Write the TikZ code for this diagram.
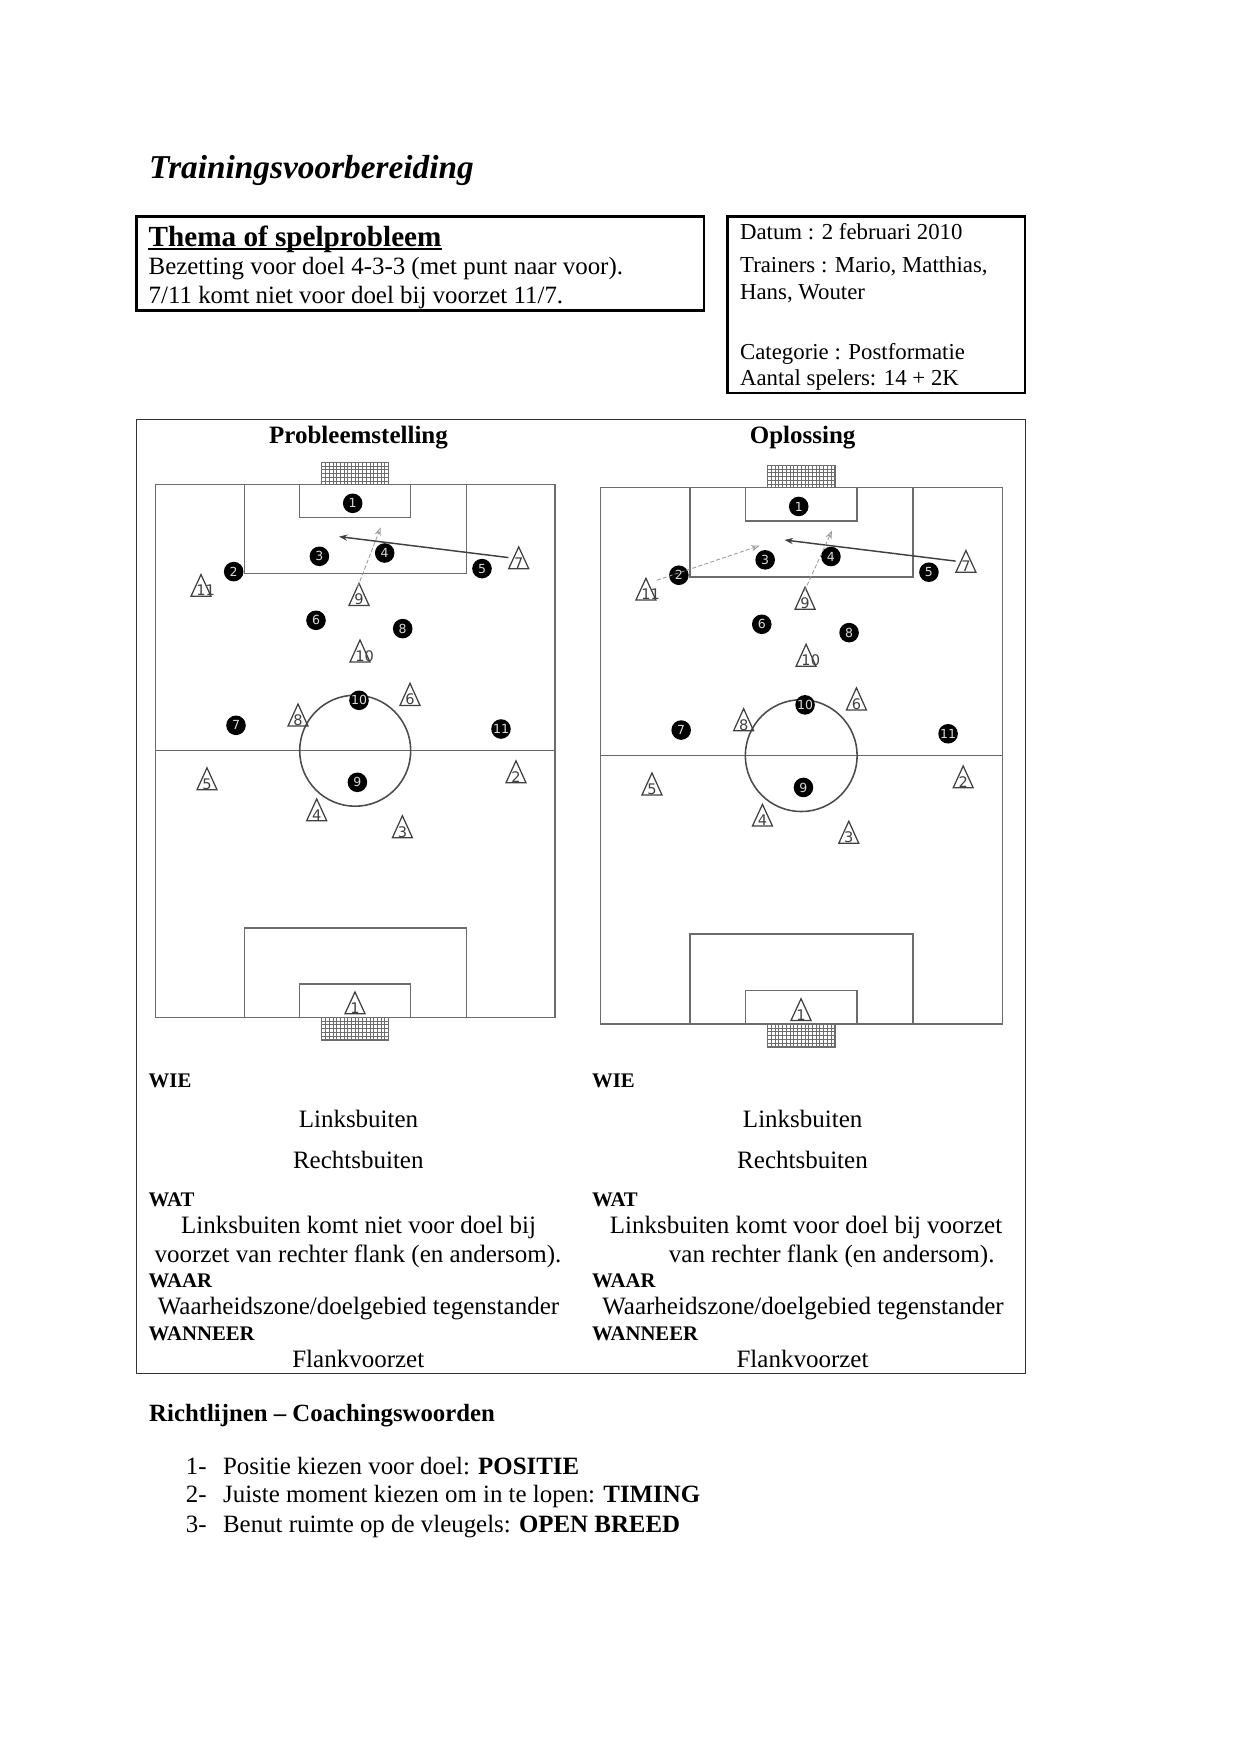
\documentclass[tikz,border=0pt]{standalone}
\usepackage{fontspec}
\setmainfont{Liberation Serif}
\newfontfamily\cijfer{DejaVu Sans}
\usetikzlibrary{shapes.geometric, arrows.meta}

\tikzset{
	lijn/.style={gray!85!black, line width=0.75pt},
	net/.style={gray!85!black, line width=0.25pt},
	kader/.style={line width=1.25pt},
	tekst/.style={anchor=base west, inner sep=0pt, font=\fontsize{11.95}{14}\selectfont},
	midden/.style={anchor=base, inner sep=0pt, font=\fontsize{12}{14}\selectfont},
	klein/.style={anchor=base west, inner sep=0pt, font=\fontsize{10.95}{13}\selectfont},
	vet/.style={anchor=base west, inner sep=0pt, font=\fontsize{9.95}{12}\selectfont\bfseries},
	kop/.style={anchor=base, inner sep=0pt, font=\fontsize{12}{14}\selectfont\bfseries},
	zwart/.style={circle, fill=black, inner sep=0pt, minimum size=9.4pt, text=white!85!black, font=\cijfer\fontsize{6}{7}\selectfont},
	wit/.style={isosceles triangle, isosceles triangle stretches, shape border rotate=90, draw=black!75, line width=0.6pt,
		inner sep=0pt, minimum width=9.6pt, minimum height=9.6pt, text=black!75, font=\cijfer\fontsize{7}{8}\selectfont},
	voorzet/.style={-{Stealth[length=4pt,width=3pt]}, black!75, line width=0.7pt},
	loopweg/.style={-{Stealth[length=4pt,width=3pt,open]}, gray!80, line width=0.4pt, dashed, dash pattern=on 2pt off 1pt},
}

% veld met spelers, #1 = voorvoegsel van de namen
\newcommand{\veld}[1]{
	\draw[lijn] (0,0) rectangle (399.3,533);
	\draw[lijn, black!60] (0,266.4) -- (399.3,266.4);
	\draw[lijn, black!70] (199.5,266.4) circle (55.5);
	% bovenste doel
	\draw[lijn] (89,0) rectangle (310.6,89);
	\draw[lijn] (144,0) rectangle (255,33.4);
	\draw[net, shift={(166,-22)}, xstep=3.7, ystep=1.776pt] (0,0) grid (67,22);
	\draw[net] (166,-22) rectangle (233,0);
	% onderste doel
	\draw[lijn] (89,533) rectangle (310.6,443.7);
	\draw[lijn] (144,533) rectangle (255,499.7);
	\draw[net, shift={(166,533)}, xstep=3.7, ystep=1.776pt] (0,0) grid (67,22.7);
	\draw[net] (166,533) rectangle (233,555.7);
	% spelers
	\foreach \n/\x/\y in {1/197/19, 2/78/87.3, 3/163.7/72, 4/229/68.7, 5/326.3/84.3, 6/160.3/136,
		8/247/144.3, 10/203.3/216, 7/80.3/241, 11/345.3/244.7, 9/201.7/298}
		\node[zwart] (#1z\n) at (\x,\y) {\n};
	\foreach \n/\x/\y in {7/363/78.7, 11/45.3/106.3, 9/203.3/115.3, 10/204.3/172, 6/254.3/215.3,
		8/142.3/236, 5/51.3/299.7, 2/360.3/292.7, 4/161/330.7, 3/246.7/347.7, 1/199.3/523.7}
		\node[wit] (#1w\n) at (\x,\y) {\makebox[4.4pt][l]{\n}};
}

\begin{document}
\begin{tikzpicture}[x=0.48pt, y=-0.48pt]
	\useasboundingbox (0,0) rectangle (1241,1754);

	%titel
	\node[anchor=base west, inner sep=0pt, font=\fontsize{16}{18}\selectfont\bfseries\itshape] (titel) at (148.7,178.4) {Trainingsvoorbereiding};

	%kader thema
	\draw[kader] (136.5,216.5) rectangle (704,310.7);
	\node[anchor=base west, inner sep=0pt, font=\fontsize{14}{16}\selectfont\bfseries] (thema) at (148.3,246) {Thema of spelprobleem};
	\draw[line width=0.9pt] ([yshift=-1.3pt]thema.base west) -- ([yshift=-1.3pt]thema.base east);
	\node[tekst] (bezetting) at (148.3,274.5) {Bezetting voor doel 4-3-3 (met punt naar voor).};
	\node[tekst] (komt) at (148.3,303.8) {7/11 komt niet voor doel bij voorzet 11/7.};

	%kader datum
	\draw[kader] (727.5,216.7) rectangle (1025,393);
	\node[klein] (datum) at (739.7,239.4) {Datum : 2 februari 2010};
	\node[klein] (trainers) at (739.7,272.6) {Trainers : Mario, Matthias,};
	\node[klein] (hans) at (739.7,299.3) {Hans, Wouter};
	\node[klein] (categorie) at (739.7,359) {Categorie : Postformatie};
	\node[klein] (aantal) at (739.7,385.7) {Aantal spelers: 14 + 2K};

	%grote tabel
	\draw[black!80, line width=0.4pt] (136.5,419) rectangle (1025,1373.7);
	\node[kop] (probleem) at (358.5,443.7) {Probleemstelling};
	\node[kop] (oplossing) at (802.6,443.7) {Oplossing};

	%veld links
	\begin{scope}[shift={(155.7,484.3)}]
		\veld{p}
		\coordinate (pkop) at (183.3,52.3);
		\coordinate (pdoel) at (225,43);
		\draw[voorzet, shorten <=5pt] ([yshift=2pt]pw7.center) -- (pkop);
		\draw[loopweg, shorten <=6.5pt] ([xshift=-3pt]pw9.center) -- (pdoel);
	\end{scope}

	%veld rechts
	\begin{scope}[shift={(600.3,487.3)}, scale=1.0072]
		\veld{o}
		\coordinate (okop) at (183,52.3);
		\coordinate (odoel) at (230,43);
		\coordinate (oflank) at (158,58);
		\draw[voorzet, shorten <=5pt] ([yshift=2pt]ow7.center) -- (okop);
		\draw[loopweg, shorten <=6.5pt] ([xshift=-3pt]ow9.center) -- (odoel);
		\draw[loopweg, shorten <=5.5pt] ([yshift=5pt]ow11.center) -- (oflank);
	\end{scope}

	%tekst links
	\node[vet] (pwie) at (148.3,1087.7) {WIE};
	\node[midden] (plinks) at (358.5,1127.3) {Linksbuiten};
	\node[midden] (prechts) at (358.3,1168.7) {Rechtsbuiten};
	\node[vet] (pwat) at (148.3,1206.7) {WAT};
	\node[midden] (pkomt) at (358.6,1233.7) {Linksbuiten komt niet voor doel bij};
	\node[midden] (pvoor) at (358,1262.7) {voorzet van rechter flank (en andersom).};
	\node[vet] (pwaar) at (148.3,1287.3) {WAAR};
	\node[midden] (pzone) at (358.5,1314) {Waarheidszone/doelgebied tegenstander};
	\node[vet] (pwanneer) at (148.3,1340) {WANNEER};
	\node[midden] (pflank) at (358.3,1367.7) {Flankvoorzet};

	%tekst rechts
	\node[vet] (owie) at (591.7,1087.7) {WIE};
	\node[midden] (olinks) at (802.7,1127.3) {Linksbuiten};
	\node[midden] (orechts) at (802.5,1168.7) {Rechtsbuiten};
	\node[vet] (owat) at (591.7,1206.7) {WAT};
	\node[midden] (okomt) at (806,1233.7) {Linksbuiten komt voor doel bij voorzet};
	\node[midden] (ovoor) at (831.7,1262.7) {van rechter flank (en andersom).};
	\node[vet] (owaar) at (591.7,1287.3) {WAAR};
	\node[midden] (ozone) at (803,1314) {Waarheidszone/doelgebied tegenstander};
	\node[vet] (owanneer) at (591.7,1340) {WANNEER};
	\node[midden] (oflanktxt) at (802.5,1367.7) {Flankvoorzet};

	%richtlijnen
	\node[tekst, font=\fontsize{11.9}{14}\selectfont\bfseries] (richtlijnen) at (148.8,1421) {Richtlijnen – Coachingswoorden};
	\node[tekst] (een) at (185.5,1474.3) {1-};
	\node[tekst] (twee) at (185.5,1502.3) {2-};
	\node[tekst] (drie) at (185.5,1532) {3-};
	\node[tekst] (positie) at (222.7,1474.3) {Positie kiezen voor doel: \textbf{POSITIE}};
	\node[tekst] (timing) at (222.7,1502.3) {Juiste moment kiezen om in te lopen: \textbf{TIMING}};
	\node[tekst] (breed) at (222.7,1532) {Benut ruimte op de vleugels: \textbf{OPEN BREED}};
\end{tikzpicture}
\end{document}
